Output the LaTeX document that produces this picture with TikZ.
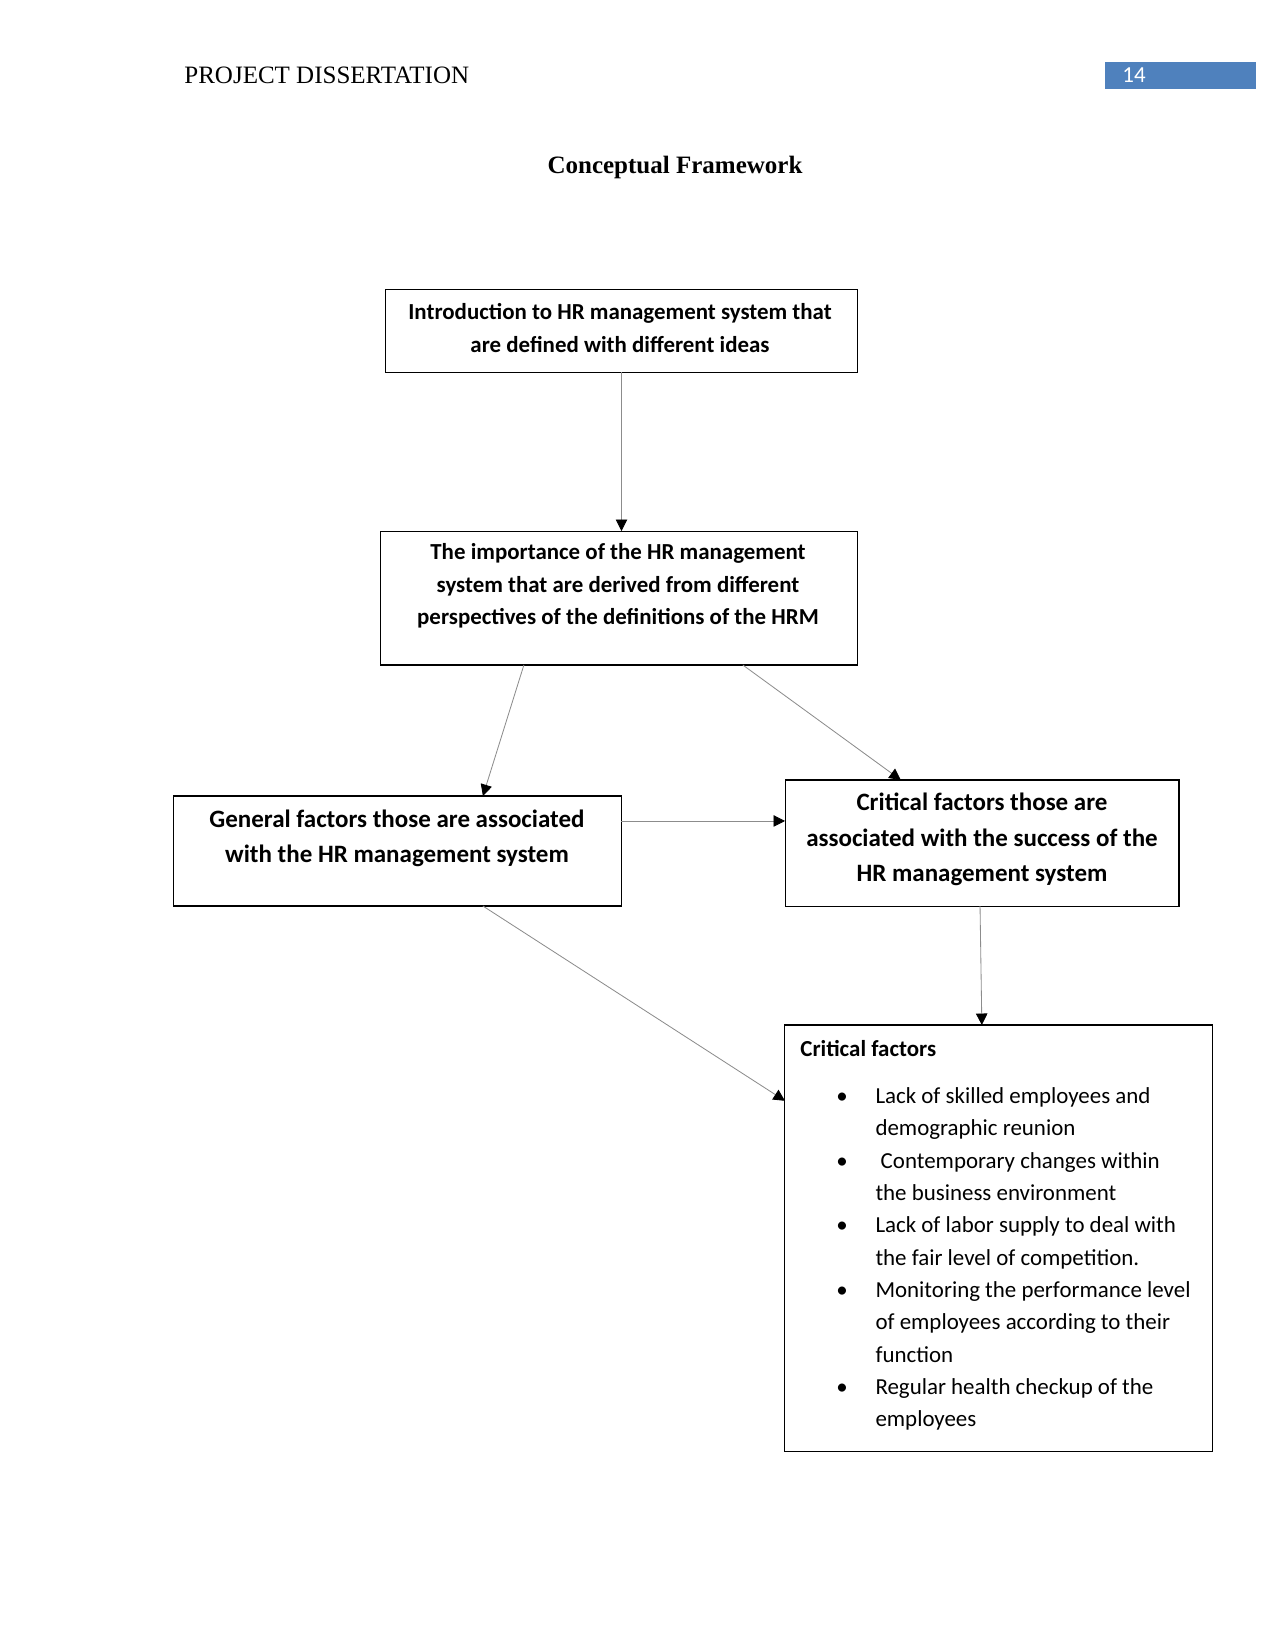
\documentclass[tikz,border=0pt]{standalone}
\usepackage{fontspec}
\setmainfont{Liberation Serif}
\newfontfamily\carl{Carlito}
\usetikzlibrary{arrows.meta,calc}
\definecolor{hdrblue}{RGB}{79,129,189}
\definecolor{linegray}{RGB}{140,140,140}
\newcommand\lbul{\makebox[17.8pt][l]{\hspace{-1pt}•}}
\newcommand\lind{\hspace*{17.8pt}}
\begin{document}
\begin{tikzpicture}[x=0.48pt,y=-0.48pt,
  box/.style={draw=black, line width=0.5pt, rectangle, inner sep=0pt, outer sep=0pt},
  txtb/.style={align=center, inner sep=0pt, font=\carl\bfseries\fontsize{11}{15.5}\selectfont},
  txtB/.style={align=center, inner sep=0pt, font=\carl\bfseries\fontsize{12}{16.9}\selectfont},
  arr/.style={draw=linegray, line width=0.4pt, -{Triangle[length=5.5pt,width=5.5pt,color=black]}}
]
\useasboundingbox (0,0) rectangle (1275,1651);

% header
\node[anchor=base west, inner sep=0pt, font=\fontsize{12}{14}\selectfont] (hdr) at (184,84) {PROJECT DISSERTATION};
\node[fill=hdrblue, minimum width=72.5pt, minimum height=12.8pt, inner sep=0pt] (pgbox) at (1180.5,75.5) {};
\node[anchor=base west, text=white, inner sep=0pt, font=\carl\fontsize{11}{13}\selectfont] (pgnum) at (1122,83) {14};
\node[anchor=base, inner sep=0pt, font=\bfseries\fontsize{12}{14}\selectfont] (title) at (675,174) {Conceptual Framework};

% boxes
\node[box, minimum width=227pt, minimum height=39.4pt] (b1) at (621.5,331) {};
\node[box, minimum width=229.4pt, minimum height=64.3pt] (b2) at (619,598) {};
\node[box, minimum width=214.6pt, minimum height=52.8pt] (b3) at (397.5,851) {};
\node[box, minimum width=189.1pt, minimum height=60.5pt] (b4) at (982,843) {};
\node[box, minimum width=205pt, minimum height=204.5pt] (b5) at (998.5,1238) {};

% box texts
\node[txtb] (t1) at (620,328) {Introduction to HR management system that\\are defined with different ideas};
\node[txtb] (t2) at (618,586) {The importance of the HR management\\system that are derived from different\\perspectives of the definitions of the HRM};
\node[txtB] (t3) at (397,838.5) {General factors those are associated\\with the HR management system};
\node[txtB] (t4) at (982,839.5) {Critical factors those are\\associated with the success of the\\HR management system};
\node[anchor=base west, inner sep=0pt, font=\carl\bfseries\fontsize{11}{13}\selectfont] (h5) at (800,1056) {Critical factors};
\node[anchor=west, align=left, inner sep=0pt, font=\carl\fontsize{11}{15.5}\selectfont] (list) at (838,1259) {%
\lbul Lack of skilled employees and\\
\lind demographic reunion\\
\lbul\hspace{2.5pt}Contemporary changes within\\
\lind the business environment\\
\lbul Lack of labor supply to deal with\\
\lind the fair level of competition.\\
\lbul Monitoring the performance level\\
\lind of employees according to their\\
\lind function\\
\lbul Regular health checkup of the\\
\lind employees};

% connector end points
\coordinate (a4s) at ($(b3.north east)!0.227!(b3.south east)$);
\coordinate (a4e) at (a4s -| b4.west);

% connectors
\draw[arr] (b1.south) -- (b1.south |- b2.north);
\draw[arr] ($(b2.south west)!0.301!(b2.south east)$) -- ($(b3.north west)!0.691!(b3.north east)$);
\draw[arr] ($(b2.south west)!0.759!(b2.south east)$) -- ($(b4.north west)!0.294!(b4.north east)$);
\draw[arr] (a4s) -- (a4e);
\draw[arr] ($(b4.south west)!0.495!(b4.south east)$) -- ($(b5.north west)!0.461!(b5.north east)$);
\draw[arr] ($(b3.south west)!0.691!(b3.south east)$) -- ($(b5.north west)!0.178!(b5.south west)$);
\end{tikzpicture}
\end{document}
